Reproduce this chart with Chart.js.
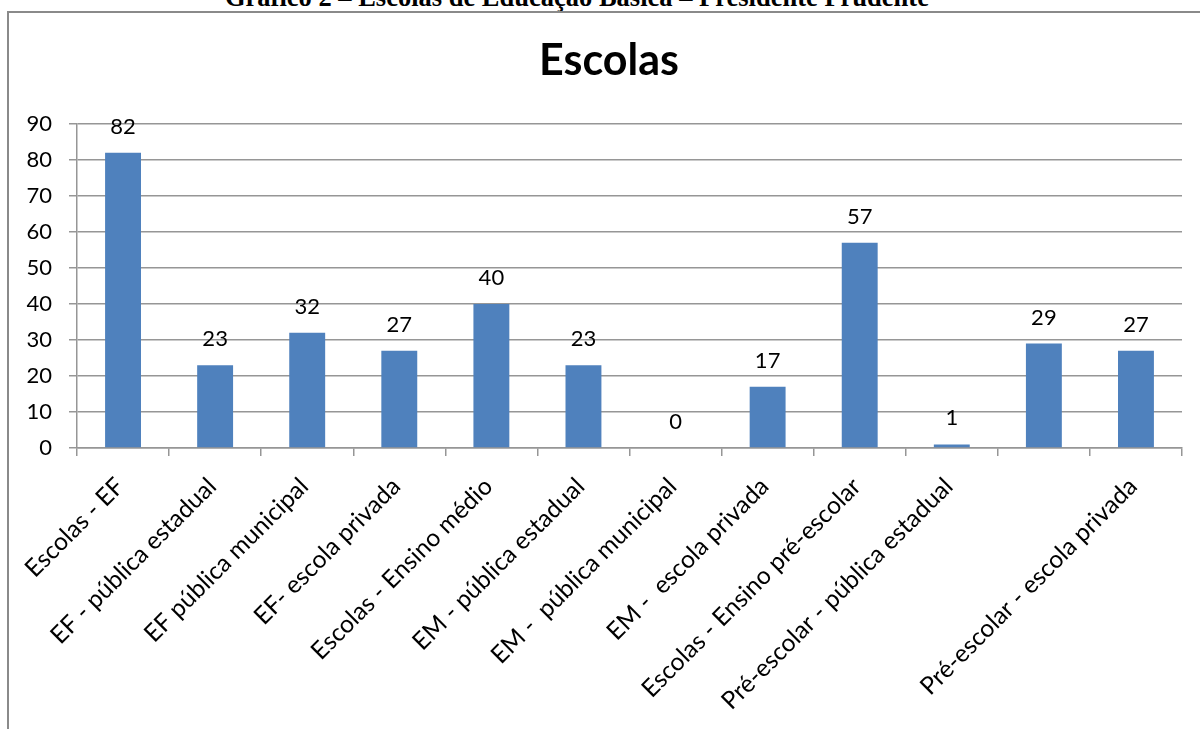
<!DOCTYPE html>
<html>
<head>
<meta charset="utf-8">
<script src="https://cdn.jsdelivr.net/npm/chart.js@4/dist/chart.umd.min.js"></script>
<style>
  html, body { margin: 0; padding: 0; background: #fff; overflow: hidden; }
  #page { position: relative; width: 1200px; height: 729px; overflow: hidden; }
  #caption {
    position: absolute; left: 225px; top: -16px; white-space: nowrap;
    font: bold 26.5px/26px "Liberation Serif", "Times New Roman", serif; color: #000;
  }
  #frame {
    position: absolute; left: 7px; top: 11px; width: 1300px; height: 800px;
    border-top: 2px solid #8a8a8a; border-left: 2px solid #8a8a8a;
  }
  #chart { position: absolute; left: 0; top: 0; }
</style>
</head>
<body>
<div id="page">
  <div id="caption">Gráfico 2 – Escolas de Educação Básica – Presidente Prudente</div>
  <div id="frame"></div>
  <canvas id="chart" width="1200" height="729"></canvas>
</div>
<script>
const chartTitle = 'Escolas';
const categories = [
  'Escolas - EF',
  'EF - pública estadual',
  'EF pública municipal',
  'EF- escola privada',
  'Escolas - Ensino médio',
  'EM - pública estadual',
  'EM -  pública municipal',
  'EM -  escola privada',
  'Escolas - Ensino pré-escolar',
  'Pré-escolar - pública estadual',
  '',
  'Pré-escolar - escola privada'
];
const schools = [82, 23, 32, 27, 40, 23, 0, 17, 57, 1, 29, 27];
const yTicks = [0, 10, 20, 30, 40, 50, 60, 70, 80, 90];

const fontFamily = 'Lato, "Open Sans", sans-serif';
const lineColor = '#969696';

// value written above each bar
const barLabels = {
  id: 'barLabels',
  afterDatasetsDraw(chart) {
    const ctx = chart.ctx;
    const meta = chart.getDatasetMeta(0);
    ctx.save();
    ctx.font = '22px ' + fontFamily;
    ctx.fillStyle = '#000';
    ctx.textAlign = 'center';
    ctx.textBaseline = 'alphabetic';
    meta.data.forEach((bar, i) => {
      ctx.fillText(String(schools[i]), bar.x, bar.y - 19);
    });
    ctx.restore();
  }
};

// the left padding only moves the title; let y tick labels use that space too
const yLabelRoom = {
  id: 'yLabelRoom',
  afterLayout(chart) {
    chart.scales.y.left = 0;
  }
};

new Chart(document.getElementById('chart'), {
  type: 'bar',
  data: {
    labels: categories,
    datasets: [{
      label: chartTitle,
      data: schools,
      backgroundColor: '#4F81BD',
      borderWidth: 0,
      categoryPercentage: 1,
      barPercentage: 0.39
    }]
  },
  options: {
    responsive: false,
    devicePixelRatio: 1,
    animation: false,
    layout: { padding: { left: 36, right: 18, top: 0, bottom: 0 } },
    plugins: {
      legend: { display: false },
      tooltip: { enabled: false },
      title: {
        display: true,
        text: chartTitle,
        color: '#000',
        font: { family: fontFamily, size: 43, weight: 'bold', lineHeight: 1.2 },
        padding: { top: 35, bottom: 37.4 }
      }
    },
    scales: {
      x: {
        afterFit: s => { s.height = 281; },
        grid: { drawOnChartArea: false, drawTicks: true, tickLength: 8, color: lineColor, lineWidth: 1.5 },
        border: { display: true, color: lineColor, width: 1.5 },
        ticks: {
          autoSkip: false, maxRotation: 45, minRotation: 45, padding: 16, labelOffset: -3,
          color: '#000', font: { family: fontFamily, size: 24.5 }
        }
      },
      y: {
        min: 0, max: 90,
        afterFit: s => { s.width = 41; },
        afterBuildTicks: s => { s.ticks = yTicks.map(v => ({ value: v })); },
        grid: { color: lineColor, lineWidth: 1.5, tickLength: 8 },
        border: { display: true, color: lineColor, width: 1.5 },
        ticks: { stepSize: 10, padding: 17, color: '#000', font: { family: fontFamily, size: 22 } }
      }
    }
  },
  plugins: [barLabels, yLabelRoom]
});
</script>
</body>
</html>
